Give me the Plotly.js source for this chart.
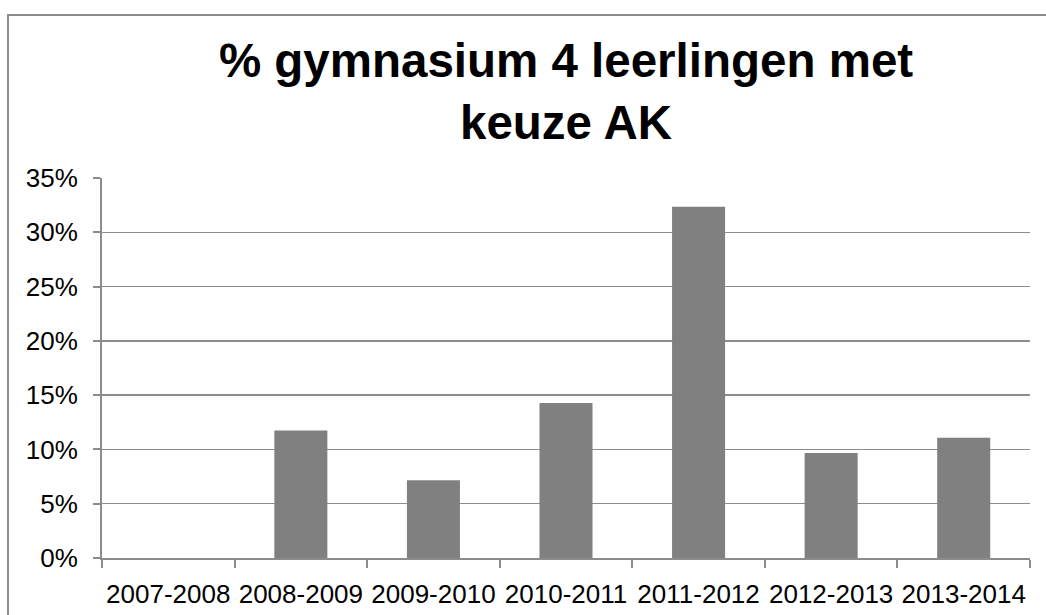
<!DOCTYPE html>
<html>
<head>
<meta charset="utf-8">
<script src="https://cdn.plot.ly/plotly-3.0.1.min.js"></script>
<style>
  html, body { margin: 0; padding: 0; background: #fff; overflow: hidden; }
  #wrap { position: relative; width: 1046px; height: 615px; overflow: hidden; }
  #chart { position: absolute; left: 0; top: 0; width: 1046px; height: 615px; }
  #frame { position: absolute; left: 7px; top: 14px; width: 1100px; height: 700px;
           border: 2px solid #8c8c8c; box-sizing: border-box; pointer-events: none; }
</style>
</head>
<body>
<div id="wrap">
  <div id="chart"></div>
  <div id="frame"></div>
</div>
<script>
const categories = ["2007-2008", "2008-2009", "2009-2010", "2010-2011", "2011-2012", "2012-2013", "2013-2014"];
const values = [0, 0.1175, 0.0715, 0.1428, 0.3236, 0.0967, 0.1108];
const yTickVals = [0, 0.05, 0.10, 0.15, 0.20, 0.25, 0.30, 0.35];
const yTickText = ["0%", "5%", "10%", "15%", "20%", "25%", "30%", "35%"];
const titleText = "% gymnasium 4 leerlingen met<br>keuze AK";

const trace = {
  type: "bar",
  x: categories,
  y: values,
  marker: { color: "#808080", line: { width: 0 } },
  width: 0.4,
  hoverinfo: "x+y"
};

const layout = {
  width: 1046,
  height: 615,
  paper_bgcolor: "rgba(0,0,0,0)",
  plot_bgcolor: "#ffffff",
  margin: { l: 102, r: 16, t: 178, b: 57 },
  font: { family: "Liberation Sans, Arial, sans-serif", color: "#000" },
  title: {
    text: titleText,
    font: { family: "Liberation Sans, Arial, sans-serif", size: 47.5, color: "#000", weight: "bold" },
    x: 0.5, xanchor: "center",
    y: 0.875, yanchor: "top",
    xref: "paper"
  },
  showlegend: false,
  bargap: 0.6,
  xaxis: {
    type: "category",
    tickangle: 0,
    showgrid: false,
    showline: true,
    linecolor: "#8c8c8c",
    linewidth: 2,
    ticks: "outside",
    tickson: "boundaries",
    ticklen: 8,
    tickwidth: 2,
    tickcolor: "#8c8c8c",
    tickfont: { size: 26, color: "#000" },
    ticklabelstandoff: 12,
    automargin: false
  },
  yaxis: {
    range: [0, 0.35],
    tickvals: yTickVals,
    ticktext: yTickText,
    showgrid: true,
    gridcolor: "#8c8c8c",
    gridwidth: 1.5,
    showline: true,
    linecolor: "#8c8c8c",
    linewidth: 2,
    ticks: "outside",
    ticklen: 7,
    tickwidth: 2,
    tickcolor: "#8c8c8c",
    tickfont: { size: 26, color: "#000" },
    ticklabelstandoff: 10,
    zeroline: false,
    automargin: false
  }
};

Plotly.newPlot("chart", [trace], layout, { displayModeBar: false, staticPlot: true });
</script>
</body>
</html>
